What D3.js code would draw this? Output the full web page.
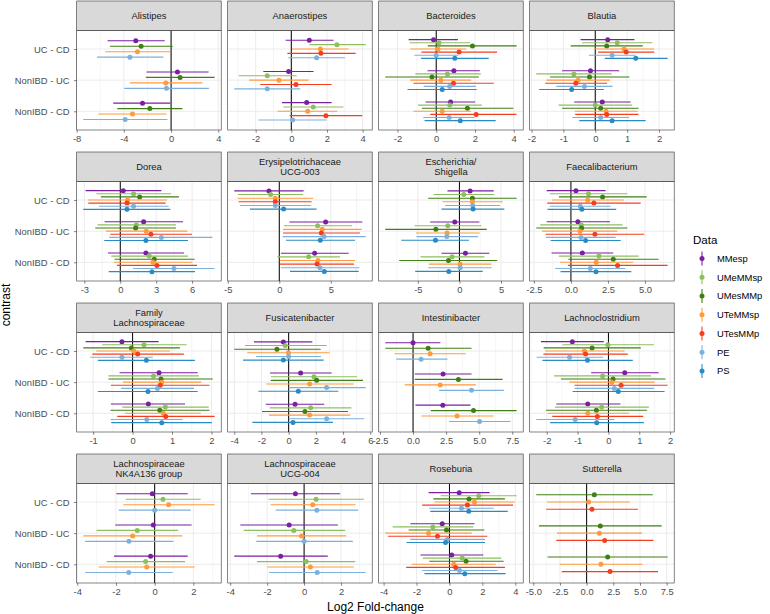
<!DOCTYPE html>
<html><head><meta charset="utf-8">
<script src="https://cdn.jsdelivr.net/npm/d3@7"></script>
<style>
body{margin:0;background:#fff}
text{font-family:"Liberation Sans",Arial,Helvetica,sans-serif}
</style></head>
<body><svg id="c" width="770" height="614"></svg>
<script>
// ---- data ----
const contrasts = ["UC - CD", "NonIBD - UC", "NonIBD - CD"];
const seriesNames = ["MMesp", "UMeMMsp", "UMesMMp", "UTeMMsp", "UTesMMp", "PE", "PS"];
const seriesColors = ["#7B1FA2", "#8CBF5E", "#3F7F13", "#FF9A3D", "#F43F1E", "#7DB1DD", "#2A8BC4"];
const taxa = ["Alistipes", "Anaerostipes", "Bacteroides", "Blautia",
  "Dorea", "Erysipelotrichaceae\nUCG-003", "Escherichia/\nShigella", "Faecalibacterium",
  "Family\nLachnospiraceae", "Fusicatenibacter", "Intestinibacter", "Lachnoclostridium",
  "Lachnospiraceae\nNK4A136 group", "Lachnospiraceae\nUCG-004", "Roseburia", "Sutterella"];

// each row = contrast; entries per series: [estimate, lower, upper] or null
const alistipes = [
  [[-2.99,-5.38,-0.54], null, [-2.54,-5.18,0.14], [-2.85,-5.58,-0.06], null, [-3.49,-6.28,-0.65], null],
  [[0.54,-2.08,3.18], null, [0.76,-2.14,3.69], [-0.45,-3.49,2.65], null, [-0.39,-3.97,3.21], null],
  [[-2.42,-4.9,-0.06], null, [-1.8,-4.56,0.96], [-3.27,-6.17,-0.39], null, [-3.89,-7.44,-0.31], null]];
const anaerostipes = [
  [[1.01,-0.32,2.37], [2.56,1.03,4.17], null, [1.63,0.04,3.21], [1.66,-0.22,3.61], [1.42,-0.17,3.01], null],
  [[-0.15,-1.57,1.25], [-1.35,-2.95,0.3], null, [-0.69,-2.36,0.97], [0.26,-1.74,2.26], [-1.35,-3.2,0.5], null],
  [[0.86,-0.52,2.26], [1.23,-0.45,2.92], null, [0.92,-0.77,2.58], [1.94,-0.09,3.98], [0.07,-1.85,1.98], null]];
const bacteroides = [
  [[-0.14,-1.42,1.12],[0.14,-1.37,1.75],[1.87,-0.43,4.15],[0.09,-1.34,1.55],[1.18,-0.77,3.14],[0,-1.13,1.15],[0.96,-0.79,2.71]],
  [[0.91,-0.45,2.25],[0.58,-1.08,2.3],[-0.22,-2.63,2.2],[0.24,-1.34,1.8],[0.89,-1.17,2.97],[0.69,-0.65,2.04],[0.31,-1.48,2.09]],
  [[0.74,-0.55,2.01],[0.7,-0.94,2.35],[1.61,-0.74,3.98],[0.31,-1.17,1.8],[2.06,-0.31,4.14],[0.67,-0.67,1.97],[1.24,-0.6,3.07]]];
const blautia = [
  [[0.39,-0.46,1.23],[0.69,-0.41,1.79],[0.36,-0.77,1.49],[0.9,-0.04,1.85],[0.97,0.09,1.85],[0.53,-0.2,1.26],[1.27,0.3,2.27]],
  [[-0.15,-1.04,0.75],[-0.67,-1.85,0.51],[-0.18,-1.42,1.07],[-0.54,-1.53,0.46],[-0.61,-1.57,0.37],[-0.34,-1.22,0.54],[-0.74,-1.76,0.27]],
  [[0.22,-0.66,1.11],[0,-1.15,1.16],[0.17,-1.04,1.36],[0.34,-0.64,1.33],[0.36,-0.63,1.35],[0.17,-0.72,1.06],[0.53,-0.5,1.58]]];
const dorea = [
  [[0.25,-2.9,3.43],[1.11,-2.0,4.26],[1.62,-1.62,4.9],[0.61,-2.67,3.9],[0.56,-2.67,3.79],[1.11,-1.78,4.04],[0.56,-3.09,4.18]],
  [[1.95,-1.31,5.24],[1.34,-1.9,4.65],[1.28,-2.09,4.65],[2.17,-1.2,5.6],[2.56,-0.84,5.99],[3.43,-0.92,7.69],[2.14,-1.34,5.65]],
  [[2.14,-1.03,5.32],[2.42,-0.75,5.65],[2.84,-0.47,6.21],[2.73,-0.53,6.02],[3.06,-0.28,6.41],[4.48,1.06,7.88],[2.65,-0.97,6.24]]];
const erysipelotrichaceae = [
  [[-1.0,-4.37,2.36],[-0.84,-4.01,2.3],null,[-0.39,-4.05,3.3],[-0.39,-3.95,3.14],[-0.39,-3.82,3.07],[0.42,-2.85,3.62]],
  [[4.5,0.97,8.06],[3.72,0.45,7.06],null,[4.17,0.36,7.99],[4.08,0.36,7.83],[4.34,0.32,8.38],[3.98,0.65,7.35]],
  [[3.43,0.16,6.73],[2.85,-0.19,5.89],null,[3.75,0.06,7.35],[3.66,0.06,7.25],[3.95,0.16,7.77],[4.37,1.04,7.7]]];
const escherichia = [
  [[1.28,-1.44,4.12],[0.52,-3.12,4.2],[1.56,-3.76,6.88],[1.56,-2.04,5.2],null,[1.6,-1.72,4.88],[1.64,-2.16,5.4]],
  [[-0.56,-3.52,2.4],[-1.4,-5.4,2.64],[-2.84,-8.92,3.28],[-1.48,-5.24,2.44],null,[-1.52,-5.16,2.24],[-2.88,-7.0,1.16]],
  [[0.72,-2.16,3.6],[-0.88,-4.68,3.0],[-1.32,-7.24,4.56],[0.08,-3.68,3.84],null,[0.08,-3.76,3.88],[-1.28,-5.32,2.8]]];
const faecalibacterium = [
  [[0.34,-1.64,2.34],[1.19,-1.42,3.81],[2.14,-0.81,5.11],[1.13,-1.26,3.56],[1.55,-1.6,4.71],[0.63,-1.42,2.68],[0.74,-1.58,3.06]],
  [[0.47,-1.64,2.64],[0.7,-2.07,3.49],[0.72,-2.34,3.81],[0.61,-1.94,3.13],[1.62,-1.71,4.95],[0.68,-1.69,3.02],[0.99,-1.37,3.36]],
  [[0.77,-1.31,2.86],[1.89,-0.81,4.57],[2.86,-0.18,5.92],[1.71,-0.74,4.21],[3.15,-0.2,6.53],[1.31,-1.06,3.67],[1.69,-0.7,4.08]]];
const familyLachnospiraceae = [
  [[-0.27,-1.19,0.66],[0.29,-0.77,1.37],[-0.03,-1.25,1.2],[0.03,-0.92,0.95],[0.13,-1.02,1.3],[-0.27,-1.07,0.51],[0.35,-0.88,1.58]],
  [[0.67,-0.33,1.65],[0.53,-0.61,1.68],[0.72,-0.61,2.03],[0.74,-0.24,1.74],[0.7,-0.55,1.95],[0.63,-0.29,1.56],[0.39,-0.88,1.65]],
  [[0.4,-0.55,1.33],[0.83,-0.26,1.93],[0.69,-0.56,1.95],[0.78,-0.19,1.73],[0.84,-0.39,2.08],[0.36,-0.56,1.27],[0.74,-0.54,2.01]]];
const fusicatenibacter = [
  [[-0.39,-2.55,1.74],[-0.25,-3.21,2.79],[-0.86,-4.0,2.35],[-0.02,-3.04,3.01],null,[0,-2.4,2.38],[-0.39,-3.36,2.57]],
  [[0.88,-1.37,3.16],[1.86,-1.3,5.02],[2.06,-1.32,5.47],[1.54,-1.64,4.78],null,[2.79,0,5.66],[0.71,-2.23,3.65]],
  [[0.47,-1.69,2.62],[1.62,-1.4,4.61],[1.2,-1.96,4.36],[1.54,-1.45,4.53],null,[2.79,0.05,5.56],[0.32,-2.67,3.26]]];
const intestinibacter = [
  [[0,-2.1,2.07],null,[1.14,-2.1,4.42],[1.29,-1.4,3.99],null,[0.61,-1.27,2.6],null],
  [[2.27,0.13,4.42],null,[3.43,0.13,6.77],[2.05,-0.63,4.75],null,[4.42,1.97,6.87],null],
  [[2.25,0.18,4.34],null,[4.57,1.34,7.83],[3.33,0.63,6.09],null,[5.03,2.73,7.37],null]];
const lachnoclostridium = [
  [[-1.17,-2.19,-0.15],[-0.02,-1.49,1.47],[-0.53,-2.1,1.05],[-0.78,-2.05,0.52],[-0.74,-2.11,0.63],[-1.26,-2.33,-0.17],[-0.68,-2.14,0.79]],
  [[0.53,-0.56,1.63],[-0.19,-1.76,1.38],[0.15,-1.54,1.85],[0.11,-1.27,1.5],[0.41,-1.1,1.92],[0.19,-1.1,1.48],[0.32,-1.16,1.82]],
  [[-0.67,-1.69,0.39],[-0.22,-1.73,1.31],[-0.39,-2.02,1.25],[-0.67,-1.97,0.67],[-0.36,-1.82,1.13],[-1.08,-2.34,0.19],[-0.38,-1.89,1.15]]];
const nk4a136 = [
  [[-0.12,-1.98,1.71],[0.43,-1.5,2.38],null,[0.72,-1.62,3.1],null,[0,-1.86,1.86],null],
  [[-0.07,-2.03,1.91],[-0.9,-3.0,1.21],null,[-1.14,-3.69,1.43],null,[-1.33,-3.59,0.97],null],
  [[-0.21,-2.1,1.71],[-0.47,-2.48,1.57],null,[-0.41,-2.9,2.07],null,[-1.34,-3.59,0.93],null]];
const ucg004 = [
  [[-0.47,-2.88,1.95],[0.65,-1.92,3.24],null,[0.47,-1.81,2.78],null,[0.69,-1.54,2.93],null],
  [[-0.81,-3.45,1.83],[-0.56,-3.27,2.22],null,[-0.14,-2.55,2.28],null,[0,-2.59,2.64],null],
  [[-1.27,-3.78,1.28],[0.11,-2.55,2.77],null,[0.34,-1.99,2.69],null,[0.71,-1.9,3.33],null]];
const roseburia = [
  [[0.59,-1.27,2.44],[1.78,-0.53,4.08],[1.19,-0.97,3.37],[1.52,-0.91,3.96],[1.09,-1.66,3.86],[0.73,-1.23,2.69],[1.17,-1.17,3.54]],
  [[-0.44,-2.38,1.52],[-1.01,-3.45,1.45],[-0.18,-2.48,2.12],[-1.27,-3.9,1.35],[-0.73,-3.74,2.3],[-0.12,-2.38,2.16],[-0.24,-2.61,2.16]],
  [[0.14,-1.76,2.06],[0.77,-1.62,3.15],[1.01,-1.23,3.29],[0.26,-2.3,2.81],[0.38,-2.63,3.37],[0.61,-1.66,2.91],[0.93,-1.52,3.41]]];
const sutterella = [
  [null,null,[0.72,-4.72,6.19],[0.19,-3.69,4.03],[0.5,-3.78,4.81],null,null],
  [null,null,[1.28,-4.47,7.03],[1.19,-2.78,5.19],[1.69,-2.84,6.25],null,null],
  [null,null,[1.97,-3.66,7.59],[1.34,-2.53,5.25],[2.19,-2.34,6.69],null,null]];

const panelData = [alistipes, anaerostipes, bacteroides, blautia, dorea, erysipelotrichaceae,
  escherichia, faecalibacterium, familyLachnospiraceae, fusicatenibacter, intestinibacter,
  lachnoclostridium, nk4a136, ucg004, roseburia, sutterella];

const panelTicks = [
  [-8,-4,0,4], [-2,0,2,4], [-2,0,2,4], [-2,-1,0,1,2],
  [-3,0,3,6], [-5,0,5], [-5,0,5], [-2.5,0,2.5,5],
  [-1,0,1,2], [-4,-2,0,2,4,6], [-2.5,0,2.5,5,7.5], [-2,-1,0,1,2],
  [-4,-2,0,2], [-4,-2,0,2], [-4,-2,0,2,4], [-5,-2.5,0,2.5,5,7.5]];

// ---- layout ----
const svg = d3.select("#c");
const colX0 = 76.7, colStep = 151, panelW = 144.5;
const rowY0 = 1, rowStep = 151, stripH = 29.3, panelH = 99.7;
const gridCol = "#ebebeb", borderCol = "#333333", textCol = "#4d4d4d";

panelData.forEach((rows, idx) => {
  const r = Math.floor(idx / 4), c = idx % 4;
  const px = colX0 + c * colStep;
  const sTop = rowY0 + r * rowStep;
  const pTop = sTop + stripH, pBot = pTop + panelH;
  const vals = [];
  rows.forEach(row => row.forEach(d => { if (d) { vals.push(d[1], d[2]); } }));
  const mn = d3.min(vals), mx = d3.max(vals), pad = 0.05 * (mx - mn);
  const x = d3.scaleLinear().domain([mn - pad, mx + pad]).range([px, px + panelW]);
  const y = d3.scalePoint().domain(contrasts).range([pTop, pBot]).padding(0.6);
  const ticks = panelTicks[idx];
  const isDec = ticks.some(t => !Number.isInteger(t));
  const fmt = t => { const s = isDec ? Math.abs(t).toFixed(1) : String(Math.abs(t)); return (t < 0 ? "-" : "") + s; };
  const step = ticks[1] - ticks[0];
  const minor = [];
  for (let i = -1; i < ticks.length; i++) {
    const m = (i < 0 ? ticks[0] - step / 2 : ticks[i] + step / 2);
    const dom = x.domain();
    if (m >= dom[0] && m <= dom[1]) minor.push(m);
  }
  const g = svg.append("g");
  g.append("rect").attr("x", px).attr("y", pTop).attr("width", panelW).attr("height", panelH).attr("fill", "#fff");
  g.selectAll(".mn").data(minor).enter().append("line")
    .attr("x1", d => x(d)).attr("x2", d => x(d)).attr("y1", pTop).attr("y2", pBot)
    .attr("stroke", gridCol).attr("stroke-width", 0.5);
  g.selectAll(".mj").data(ticks).enter().append("line")
    .attr("x1", d => x(d)).attr("x2", d => x(d)).attr("y1", pTop).attr("y2", pBot)
    .attr("stroke", gridCol).attr("stroke-width", 1);
  g.selectAll(".hj").data(contrasts).enter().append("line")
    .attr("x1", px).attr("x2", px + panelW).attr("y1", d => y(d)).attr("y2", d => y(d))
    .attr("stroke", gridCol).attr("stroke-width", 1);
  g.append("line").attr("x1", x(0)).attr("x2", x(0)).attr("y1", pTop).attr("y2", pBot)
    .attr("stroke", "#000").attr("stroke-width", 1);

  rows.forEach((row, k) => {
    const present = [];
    row.forEach((d, s) => { if (d) present.push({ s, d }); });
    const n = present.length;
    const dw = 0.7 * y.step() / n;
    present.forEach((p, j) => {
      const yy = y(contrasts[k]) + (j - (n - 1) / 2) * dw;
      const col = seriesColors[p.s];
      g.append("line").attr("x1", x(p.d[1])).attr("x2", x(p.d[2])).attr("y1", yy).attr("y2", yy)
        .attr("stroke", col).attr("stroke-width", 1.1);
      g.append("circle").attr("cx", x(p.d[0])).attr("cy", yy).attr("r", 2.5).attr("fill", col);
    });
  });

  g.append("rect").attr("x", px).attr("y", pTop).attr("width", panelW).attr("height", panelH)
    .attr("fill", "none").attr("stroke", borderCol).attr("stroke-width", 0.6);
  // strip
  g.append("rect").attr("x", px).attr("y", sTop).attr("width", panelW).attr("height", stripH)
    .attr("fill", "#d9d9d9").attr("stroke", borderCol).attr("stroke-width", 0.6);
  const lines = taxa[idx].split("\n");
  const lh = 10.7, cy = sTop + stripH / 2;
  lines.forEach((t, li) => {
    g.append("text").attr("x", px + panelW / 2)
      .attr("y", cy + (li - (lines.length - 1) / 2) * lh)
      .attr("dy", "0.35em").attr("text-anchor", "middle")
      .attr("font-size", "9.4px").attr("fill", "#1a1a1a").text(t);
  });
  // x axis
  const ax = g.append("g").attr("transform", `translate(0,${pBot})`)
    .call(d3.axisBottom(x).tickValues(ticks).tickFormat(fmt).tickSize(2.7).tickPadding(2.2));
  ax.select(".domain").remove();
  ax.selectAll(".tick line").attr("stroke", borderCol).attr("stroke-width", 0.6);
  ax.selectAll(".tick text").attr("fill", textCol).attr("font-size", "9.4px")
    .attr("font-family", "Liberation Sans, Arial, sans-serif");
  // y axis
  if (c === 0) {
    const ay = g.append("g").attr("transform", `translate(${px},0)`)
      .call(d3.axisLeft(y).tickSize(2.7).tickPadding(4.5));
    ay.select(".domain").remove();
    ay.selectAll(".tick line").attr("stroke", borderCol).attr("stroke-width", 0.6);
    ay.selectAll(".tick text").attr("fill", textCol).attr("font-size", "9.4px")
      .attr("font-family", "Liberation Sans, Arial, sans-serif");
  }
});

// axis titles
svg.append("text").attr("x", colX0 + (3 * colStep + panelW) / 2).attr("y", 611)
  .attr("text-anchor", "middle").attr("font-size", "12px").attr("fill", "#000").text("Log2 Fold-change");
svg.append("text").attr("transform", "translate(9.5,305) rotate(-90)")
  .attr("text-anchor", "middle").attr("font-size", "12px").attr("fill", "#000").text("contrast");

// legend
const lg = svg.append("g");
lg.append("text").attr("x", 693).attr("y", 243.5).attr("font-size", "11.5px").attr("fill", "#000").text("Data");
const ly = d3.scalePoint().domain(seriesNames).range([258.5, 371]);
seriesNames.forEach((s, i) => {
  const yy = ly(s);
  lg.append("line").attr("x1", 702).attr("x2", 702).attr("y1", yy - 7).attr("y2", yy + 7)
    .attr("stroke", seriesColors[i]).attr("stroke-width", 1.1);
  lg.append("circle").attr("cx", 702).attr("cy", yy).attr("r", 2.5).attr("fill", seriesColors[i]);
  lg.append("text").attr("x", 717).attr("y", yy).attr("dy", "0.35em").attr("font-size", "9.4px")
    .attr("fill", "#000").text(s);
});
</script></body></html>
